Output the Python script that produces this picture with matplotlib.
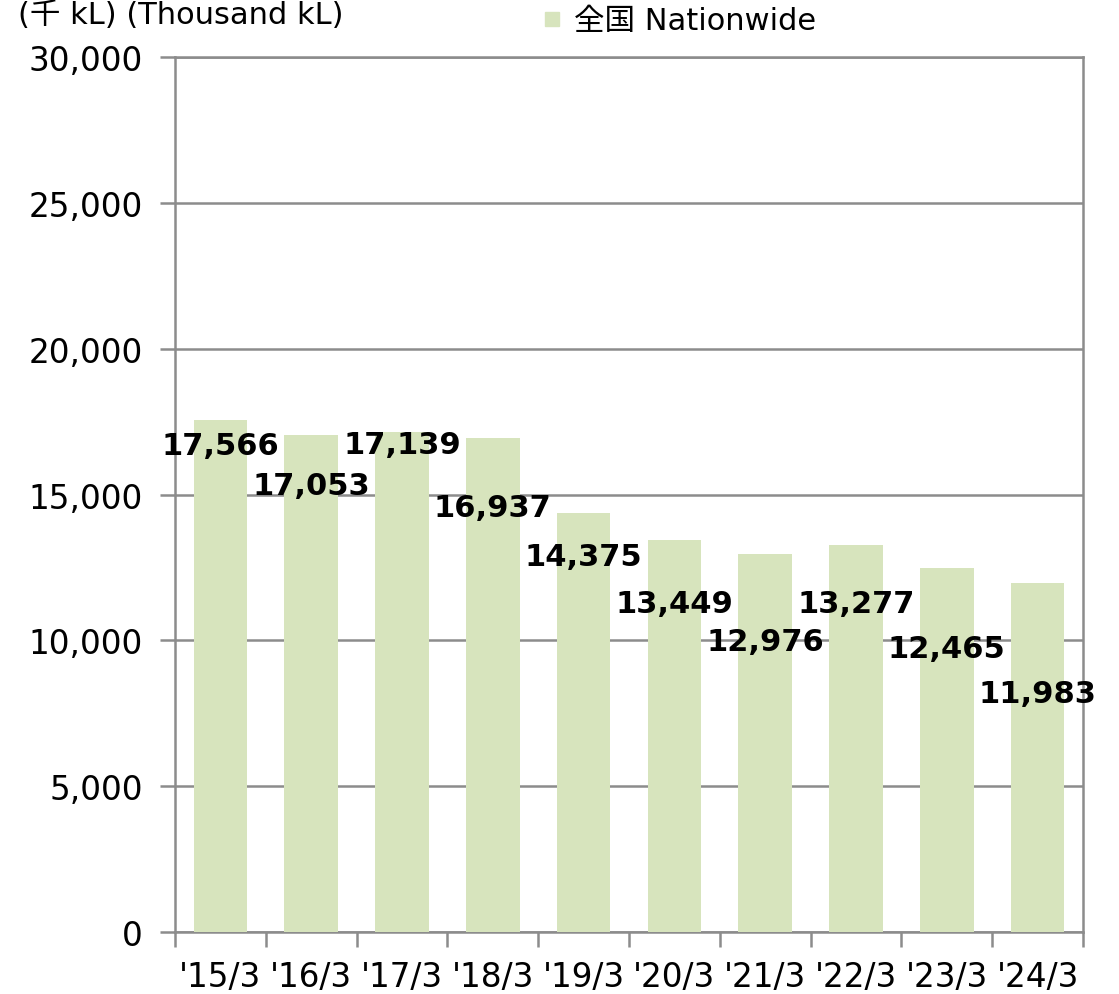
import matplotlib.pyplot as plt
from matplotlib.lines import Line2D

plt.rcParams['font.family'] = ['DejaVu Sans', 'Noto Sans CJK JP']

years = ["'15/3", "'16/3", "'17/3", "'18/3", "'19/3", "'20/3", "'21/3", "'22/3", "'23/3", "'24/3"]
values = [17566, 17053, 17139, 16937, 14375, 13449, 12976, 13277, 12465, 11983]
# how far each value label sits below the bar top (data units)
label_drop = [870, 1760, 440, 2370, 1510, 2170, 3000, 2000, 2730, 3820]

bar_color = '#d7e4bd'
grid_color = '#8c8c8c'

fig = plt.figure(figsize=(11.19, 9.95), dpi=100)
ax = fig.add_axes([0.1564, 0.0623, 0.8114, 0.8794])

x = range(len(years))
ax.bar(x, values, width=0.59, color=bar_color, zorder=3)

for i, v in enumerate(values):
    ax.text(i, v - label_drop[i], f'{v:,}', ha='center', va='center',
            fontsize=22, fontweight='bold', color='black', zorder=4)

ax.set_xlim(-0.5, len(years) - 0.5)
ax.set_ylim(0, 30000)
ax.set_yticks(range(0, 30001, 5000))
ax.set_yticklabels([f'{t:,}' for t in range(0, 30001, 5000)], fontsize=23.5)
ax.yaxis.grid(True, color=grid_color, linewidth=1.8, zorder=1)

ax.set_xticks([i - 0.5 for i in range(len(years) + 1)])
ax.set_xticklabels([])
ax.set_xticks(list(x), minor=True)
ax.set_xticklabels(years, minor=True, fontsize=23.5)
ax.tick_params(axis='x', which='major', length=11, width=1.8, color=grid_color)
ax.tick_params(axis='x', which='minor', length=0, pad=20)
ax.tick_params(axis='y', length=11, width=1.8, color=grid_color, pad=12)

for side in ['left', 'right', 'bottom', 'top']:
    ax.spines[side].set_color(grid_color)
    ax.spines[side].set_linewidth(1.8)

handle = Line2D([], [], marker='s', linestyle='none', markersize=10,
                markerfacecolor=bar_color, markeredgecolor=bar_color)
fig.legend([handle], ['全国 Nationwide'], loc='center', bbox_to_anchor=(0.606, 0.978),
           frameon=False, fontsize=22, handletextpad=0.3, handlelength=0.8)

fig.text(0.016, 0.999, '(千 kL) (Thousand kL)', ha='left', va='top', fontsize=22)

plt.savefig('out.png', dpi=100)
